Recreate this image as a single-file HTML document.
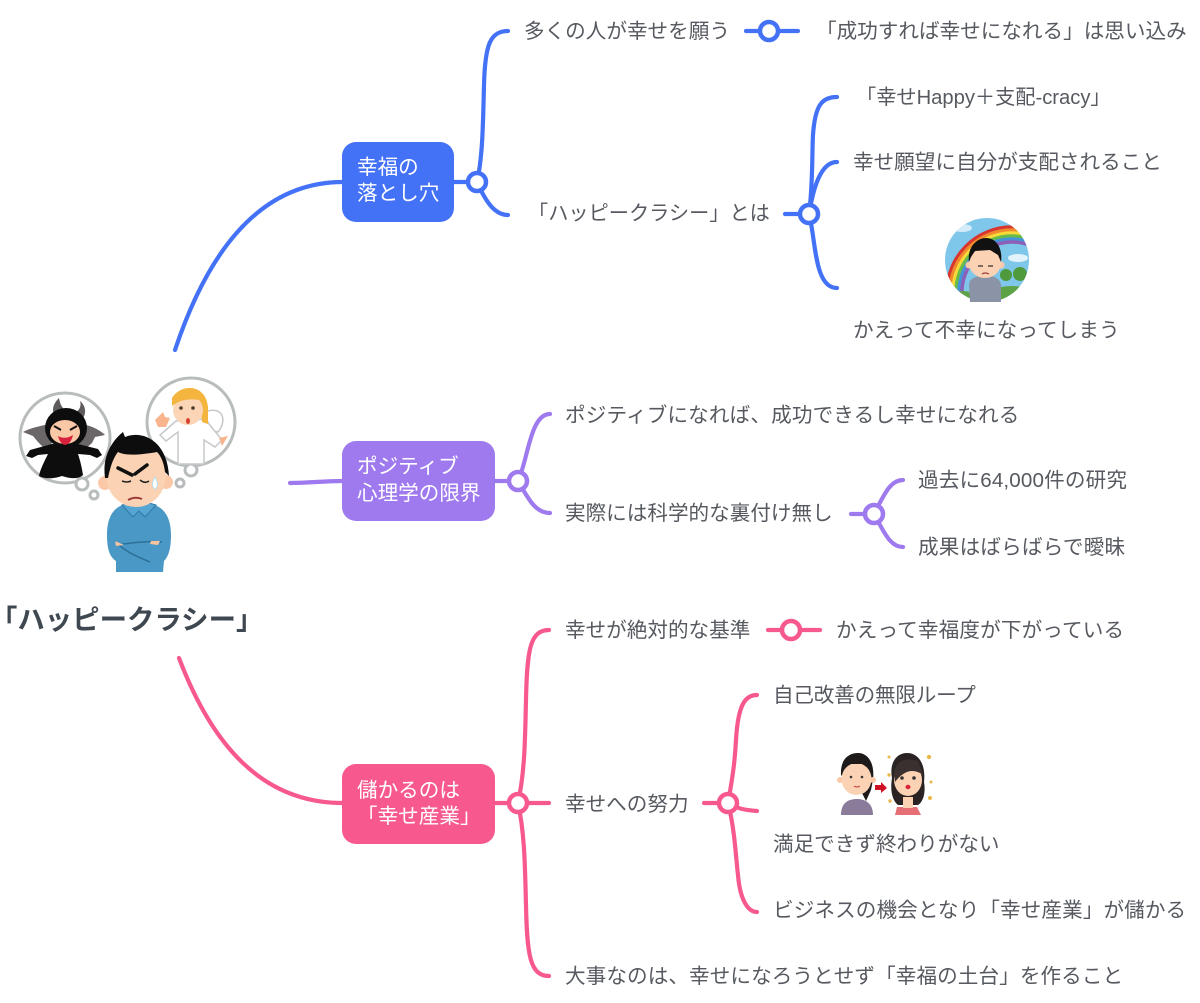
<!DOCTYPE html>
<html lang="ja">
<head>
<meta charset="utf-8">
<title>ハッピークラシー</title>
<style>
html,body{margin:0;padding:0;background:#fff;width:1200px;height:1003px;overflow:hidden}
svg{display:block}
text{font-family:"Liberation Sans","Noto Sans CJK JP",sans-serif;font-size:20.6px;fill:#565a60}
.w{fill:#fff}
.l{fill:none;stroke-width:4.2;stroke-linecap:round}
.b{stroke:#4472f7}.p{stroke:#9f7aef}.k{stroke:#f7598f}
.c{fill:#fff;stroke-width:4.5}
.t{font-size:27.4px;font-weight:700;fill:#3f4850}
</style>
</head>
<body>
<svg width="1200" height="1003" viewBox="0 0 1200 1003" xmlns="http://www.w3.org/2000/svg">
<!-- main connectors -->
<path class="l b" d="M175 350C205 260 255 182 343 182"/>
<path class="l p" d="M290 483C310 483 322 481 343 481"/>
<path class="l k" d="M179 658C212 745 262 803 343 803"/>
<!-- nodes -->
<rect x="342" y="142" width="112" height="80" rx="14" fill="#4472f7"/>
<rect x="342" y="441" width="153" height="80" rx="14" fill="#9f7aef"/>
<rect x="342" y="764" width="153" height="80" rx="14" fill="#f7598f"/>
<text class="w" x="357" y="174">幸福の</text>
<text class="w" x="357" y="200">落とし穴</text>
<text class="w" x="357" y="473">ポジティブ</text>
<text class="w" x="357" y="500">心理学の限界</text>
<text class="w" x="357" y="797">儲かるのは</text>
<text class="w" x="357" y="823">「幸せ産業」</text>
<!-- blue branches -->
<path class="l b" d="M454 182H477"/>
<path class="l b" d="M477 182C483 155 483 120 484 85C485 45 490 31 508 31"/>
<path class="l b" d="M477 182C485 200 494 215 508 215"/>
<circle class="c b" cx="477" cy="182" r="9"/>
<path class="l b" d="M746 31H798"/>
<circle class="c b" cx="769" cy="31" r="9"/>
<path class="l b" d="M785 214H809"/>
<path class="l b" d="M809 214C813 185 812 150 813 135C815 105 822 97 837 97"/>
<path class="l b" d="M809 214C813 190 820 162 837 162"/>
<path class="l b" d="M809 214C816 240 814 288 837 288"/>
<circle class="c b" cx="809" cy="214" r="9"/>
<!-- purple branches -->
<path class="l p" d="M495 481H518"/>
<path class="l p" d="M518 481C528 460 530 414 550 414"/>
<path class="l p" d="M518 481C528 498 535 513 550 513"/>
<circle class="c p" cx="518" cy="481" r="9"/>
<path class="l p" d="M851 514H874"/>
<path class="l p" d="M874 514C884 495 890 480 903 480"/>
<path class="l p" d="M874 514C884 532 890 547 903 547"/>
<circle class="c p" cx="874" cy="514" r="9"/>
<!-- pink branches -->
<path class="l k" d="M495 803H549"/>
<path class="l k" d="M518 803C525 770 525 740 526 700C527 650 530 630 549 630"/>
<path class="l k" d="M518 803C525 835 525 870 526 905C527 955 530 976 549 976"/>
<circle class="c k" cx="518" cy="803" r="9"/>
<path class="l k" d="M768 630H820"/>
<circle class="c k" cx="791" cy="630" r="9"/>
<path class="l k" d="M704 803H728"/>
<path class="l k" d="M728 803C733 775 735 760 736 740C738 705 745 695 757 695"/>
<path class="l k" d="M728 803C738 809 745 810 757 811"/>
<path class="l k" d="M728 803C735 830 736 860 738 875C740 900 748 912 757 912"/>
<circle class="c k" cx="728" cy="803" r="9"/>
<!-- labels -->
<text x="524" y="38">多くの人が幸せを願う</text>
<text x="816" y="38">「成功すれば幸せになれる」は思い込み</text>
<text x="856" y="104" style="font-size:20.2px">「幸せHappy＋支配-cracy」</text>
<text x="853" y="169">幸せ願望に自分が支配されること</text>
<text x="528" y="220" style="font-size:20.2px">「ハッピークラシー」とは</text>
<text x="853" y="337" style="letter-spacing:.08px">かえって不幸になってしまう</text>
<text x="565" y="422" style="letter-spacing:.14px">ポジティブになれば、成功できるし幸せになれる</text>
<text x="565" y="520">実際には科学的な裏付け無し</text>
<text x="918" y="487" style="letter-spacing:.15px">過去に64,000件の研究</text>
<text x="918" y="554" style="letter-spacing:.2px">成果はばらばらで曖昧</text>
<text x="565" y="637">幸せが絶対的な基準</text>
<text x="836" y="637" style="letter-spacing:.14px">かえって幸福度が下がっている</text>
<text x="773" y="702" style="letter-spacing:-.2px">自己改善の無限ループ</text>
<text x="565" y="811">幸せへの努力</text>
<text x="773" y="851">満足できず終わりがない</text>
<text x="773" y="917" style="letter-spacing:.1px">ビジネスの機会となり「幸せ産業」が儲かる</text>
<text x="565" y="983" style="letter-spacing:.08px">大事なのは、幸せになろうとせず「幸福の土台」を作ること</text>
<text class="t" x="-10" y="629">「ハッピークラシー」</text>

<!-- central illustration -->
<g>
  <circle cx="65" cy="438" r="45" fill="#fff" stroke="#b9bcbd" stroke-width="3"/>
  <circle cx="191" cy="422" r="44" fill="#fff" stroke="#b9bcbd" stroke-width="3"/>
  <circle cx="82" cy="484" r="6" fill="#fff" stroke="#b9bcbd" stroke-width="3"/>
  <circle cx="94" cy="495" r="4" fill="#fff" stroke="#b9bcbd" stroke-width="3"/>
  <circle cx="191" cy="470" r="6" fill="#fff" stroke="#b9bcbd" stroke-width="3"/>
  <circle cx="180" cy="483" r="4" fill="#fff" stroke="#b9bcbd" stroke-width="3"/>
  <!-- devil -->
  <path d="M50 424C40 426 30 428 23 432L33 436L38 442L44 448L52 448ZM82 424C92 426 100 430 105 435L95 437L92 443L84 450L76 448Z" fill="#6b6668"/>
  <path d="M54 414C51 407 56 401 59 398C60 404 62 408 66 411ZM76 412C81 409 81 404 80 401C85 405 87 412 83 418Z" fill="#5f5a5c"/>
  <ellipse cx="66" cy="428" rx="21" ry="20" fill="#0d0d0d"/>
  <path d="M52 444L30 450L26 456L32 458L38 455L48 454C44 462 40 470 39 476C46 480 56 478 62 476C68 478 78 480 83 475C82 468 80 460 78 454L90 455L97 458L102 455L98 449L78 444Z" fill="#0d0d0d"/>
  <ellipse cx="65" cy="432" rx="15" ry="12" fill="#fac8a6"/>
  <path d="M58 436Q65 440 73 435Q71 444 65 445Q60 444 58 436Z" fill="#d8213d"/>
  <path d="M54 426L61 430M77 426L70 430" stroke="#111" stroke-width="2"/>
  <!-- angel -->
  <path d="M205 412C222 405 228 420 218 432L210 430Z" fill="#fff" stroke="#c6c9cb" stroke-width="1.5"/>
  <path d="M176 421L160 435L166 441L178 432L178 464H204L204 440L215 447L222 440L205 419Z" fill="#fff" stroke="#c6c9cb" stroke-width="1.5"/>
  <path d="M172 402C175 385 205 380 208 407L208 424L202 422L200 404L180 402Z" fill="#f4b53f"/>
  <ellipse cx="188" cy="410" rx="15" ry="15" fill="#fbd5b5"/>
  <path d="M172 398C180 384 202 384 207 402C195 398 182 398 172 406Z" fill="#f4b53f"/>
  <circle cx="181" cy="408" r="1.8" fill="#4c3a2c"/><circle cx="193" cy="408" r="1.8" fill="#4c3a2c"/>
  <ellipse cx="188" cy="421" rx="2" ry="3" fill="#d8402f"/>
  <path d="M155 420L163 412L165 417L170 418L166 427L158 427Z" fill="#f7b48d"/>
  <path d="M219 438L228 436L222 446Z" fill="#f7b48d"/>
  <!-- man -->
  <path d="M107 535C107 515 115 507 125 504H152C163 507 171 516 171 535C171 550 168 557 164 561L163 572H116V561C110 557 107 550 107 535Z" fill="#4a98c5"/>
  <path d="M122 505L133 517L139 511L145 517L156 505L139 500Z" fill="#57a5d2" stroke="#2e7aa8" stroke-width="1"/>
  <path d="M115 541C125 552 138 557 150 562M118 545C135 542 150 541 162 542" fill="none" stroke="#2b7199" stroke-width="1.5"/>
  <path d="M115 541L124 545L116 546ZM151 541L160 541L158 545L150 544Z" fill="#f7c3a0"/>
  <circle cx="105" cy="483" r="7" fill="#fbc9a8"/>
  <circle cx="166" cy="482" r="7" fill="#fbc9a8"/>
  <ellipse cx="136" cy="475" rx="30" ry="32" fill="#fbd2b3"/>
  <path d="M105 478C102 456 112 441 123 432L125 437C142 430 167 440 169 476L165 472C164 463 161 456 157 452C140 455 125 456 118 452C113 458 110 468 108 478Z" fill="#0d0d0d"/>
  <path d="M118 468L132 475M147 465L135 474" stroke="#111" stroke-width="3.5" stroke-linecap="round"/>
  <path d="M122 481Q127 483 131 481M140 480Q145 484 149 481" fill="none" stroke="#222" stroke-width="1.6"/>
  <path d="M128 500Q135 496 142 499" fill="none" stroke="#9b3b3b" stroke-width="2"/>
  <path d="M155 477Q150 486 155 489Q160 486 155 477Z" fill="#fff" stroke="#b9dff2"/>
</g>

<!-- rainbow man -->
<g>
  <defs><clipPath id="cp1"><circle cx="987" cy="260" r="42"/></clipPath></defs>
  <circle cx="987" cy="260" r="42" fill="#7ec6ea"/>
  <g clip-path="url(#cp1)" fill="none" stroke-width="3.4">
    <ellipse cx="962" cy="228" rx="10" ry="4" fill="#d3ecf8" stroke="none"/>
    <ellipse cx="1018" cy="258" rx="10" ry="4" fill="#e2f3fb" stroke="none"/>
    <circle cx="1012" cy="292" r="65" stroke="#d8352f"/>
    <circle cx="1012" cy="292" r="62" stroke="#f08a2c"/>
    <circle cx="1012" cy="292" r="59" stroke="#f8d93a"/>
    <circle cx="1012" cy="292" r="56" stroke="#66bb49"/>
    <circle cx="1012" cy="292" r="53" stroke="#4593d8"/>
    <circle cx="1012" cy="292" r="50" stroke="#8d5fb8"/>
    <ellipse cx="1012" cy="296" rx="24" ry="10" fill="#5da345" stroke="none"/>
    <ellipse cx="960" cy="300" rx="22" ry="9" fill="#5da345" stroke="none"/>
    <circle cx="1006" cy="275" r="6" fill="#4e9a3c" stroke="none"/>
    <circle cx="1020" cy="274" r="7" fill="#4e9a3c" stroke="none"/>
  </g>
  <path d="M969 285C969 279 975 276 985 275C995 276 1000 279 1001 285V302H970Z" fill="#8b93a6"/>
  <circle cx="969" cy="265" r="3.5" fill="#fbc9a8"/><circle cx="1001" cy="265" r="3.5" fill="#fbc9a8"/>
  <ellipse cx="985" cy="263" rx="16" ry="15" fill="#fbd2b3"/>
  <path d="M969 262C967 247 977 238 986 238C996 238 1003 248 1001 262L998 255L990 250L975 251L971 257Z" fill="#111"/>
  <path d="M978 266H983M988 266H993" stroke="#333" stroke-width="1.2"/>
  <path d="M982 274Q985 272 989 274" stroke="#a03a3a" fill="none" stroke-width="1.2"/>
</g>

<!-- before/after -->
<g>
  <path d="M841 815C841 803 848 799 857 799C866 799 873 804 873 815Z" fill="#8b7b9b"/>
  <path d="M841 775C840 758 850 753 858 753C868 753 875 763 873 780L871 790L866 801L862 793Z" fill="#1f1a1a"/>
  <circle cx="840" cy="780" r="3" fill="#fbc9a8"/><circle cx="873" cy="780" r="3" fill="#fbc9a8"/>
  <ellipse cx="856.500" cy="779" rx="15" ry="16" fill="#fbd2b3"/>
  <path d="M842 772C845 762 850 757 858 757C866 758 870 765 872 772L864 764H849Z" fill="#1f1a1a"/>
  <circle cx="851" cy="777" r="1.3" fill="#333"/><circle cx="862" cy="777" r="1.3" fill="#333"/>
  <path d="M854 786Q857 788 860 786" stroke="#c0392b" fill="none"/>
  <path d="M875 785H881V782L887 788L881 793V790H875Z" fill="#cf1126"/>
  <path d="M892 778C889 762 897 753 907 753C919 753 926 765 924 782C926 793 923 802 918 805L898 805C892 800 890 790 892 778Z" fill="#2b2323"/>
  <path d="M895 815L897 807H917L921 815Z" fill="#e66f76"/>
  <path d="M903 797H913V808H903Z" fill="#fbd2b3"/>
  <ellipse cx="908" cy="780" rx="14" ry="16" fill="#fbd2b3"/>
  <path d="M894 772C897 760 906 757 918 761L923 775C914 768 904 770 895 782Z" fill="#3b3030"/>
  <circle cx="902" cy="778" r="1.8" fill="#333"/><circle cx="914" cy="778" r="1.8" fill="#333"/>
  <ellipse cx="908" cy="787" rx="2.5" ry="2.2" fill="#d9233c"/>
  <g fill="#e8b84a">
    <circle cx="889" cy="775" r="1.7"/><circle cx="890" cy="801" r="1.7"/><circle cx="929" cy="757" r="2.2"/>
    <circle cx="931" cy="782" r="1.5"/><circle cx="930" cy="798" r="2"/><circle cx="889" cy="757" r="1.5"/>
  </g>
</g>
</svg>
</body>
</html>
